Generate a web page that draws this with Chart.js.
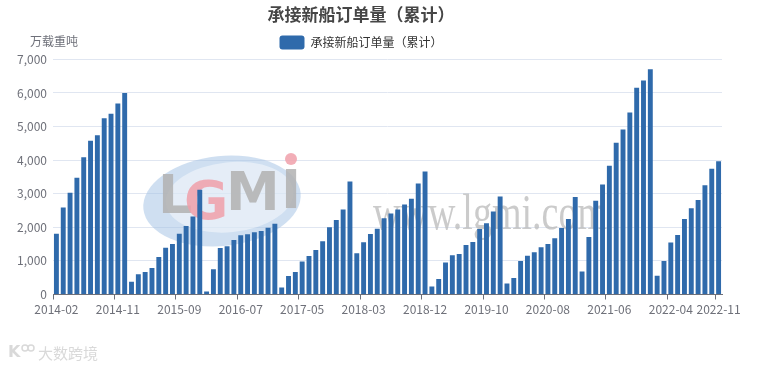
<!DOCTYPE html>
<html>
<head>
<meta charset="utf-8">
<script src="https://cdn.jsdelivr.net/npm/chart.js@4.4.0/dist/chart.umd.min.js"></script>
<style>
html, body { margin: 0; padding: 0; background: #fff; }
</style>
</head>
<body>
<canvas id="myChart" width="760" height="370"></canvas>
<script>
//Cumulative new ship orders (10k dwt). January is merged into February,
//so every year runs 02..12 (2022 stops at 11)
var months = ['02', '03', '04', '05', '06', '07', '08', '09', '10', '11', '12'];
var years = ['2014', '2015', '2016', '2017', '2018', '2019', '2020', '2021', '2022'];

var orders2014 = [1810, 2590, 3030, 3475, 4085, 4580, 4740, 5250, 5380, 5690, 6000];
var orders2015 = [380, 600, 670, 790, 1115, 1395, 1505, 1810, 2040, 2320, 3120];
var orders2016 = [90, 750, 1385, 1435, 1625, 1765, 1795, 1850, 1890, 1990, 2110];
var orders2017 = [210, 550, 670, 985, 1145, 1325, 1585, 2000, 2220, 2530, 3365];
var orders2018 = [1225, 1555, 1800, 1960, 2270, 2410, 2530, 2680, 2850, 3305, 3665];
var orders2019 = [240, 460, 955, 1165, 1205, 1475, 1565, 1950, 2120, 2470, 2920];
var orders2020 = [330, 490, 995, 1155, 1255, 1405, 1505, 1675, 1980, 2250, 2900];
var orders2021 = [685, 1715, 2790, 3275, 3835, 4520, 4910, 5420, 6155, 6375, 6705];
var orders2022 = [560, 995, 1545, 1775, 2250, 2570, 2810, 3255, 3745, 3965];

var yearlyOrders = [orders2014, orders2015, orders2016, orders2017, orders2018,
    orders2019, orders2020, orders2021, orders2022];

//flatten into one label list + one value list for the bar chart
var labels = [], values = [];
for (var i = 0; i < years.length; i++) {
    for (var j = 0; j < yearlyOrders[i].length; j++) {
        labels.push(years[i] + '-' + months[j]);
        values.push(yearlyOrders[i][j]);
    }
}

var LABEL_STEP = 9;
var GREY = '#6e7079';
var FONT = '"Noto Sans CJK SC", "Noto Sans", sans-serif';
Chart.defaults.font.family = FONT;

function showTick(index) {
    return index % LABEL_STEP === 0 || index === labels.length - 1;
}

//faint site logos that sit behind / around the bars
const watermark = {
    id: 'watermark',
    beforeDatasetsDraw: function (chart) {
        var ctx = chart.ctx;
        ctx.save();
        ctx.translate(222, 201);
        ctx.rotate(-0.1);
        ctx.fillStyle = 'rgba(160,192,228,0.5)';
        ctx.beginPath();
        ctx.ellipse(0, 0, 79, 45, 0, 0, Math.PI * 2);
        ctx.fill();
        ctx.fillStyle = 'rgba(255,255,255,0.45)';
        ctx.beginPath();
        ctx.ellipse(8, -3, 64, 35, 0, 0, Math.PI * 2);
        ctx.fill();
        ctx.restore();

        ctx.save();
        ctx.font = 'bold 54px "DejaVu Sans"';
        ctx.textBaseline = 'alphabetic';
        ctx.fillStyle = 'rgba(178,178,178,0.85)';
        ctx.fillText('L', 158, 213);
        ctx.fillStyle = 'rgba(240,160,170,0.85)';
        ctx.fillText('G', 184, 219);
        ctx.fillStyle = 'rgba(178,178,178,0.85)';
        ctx.fillText('M', 226, 210);
        ctx.fillText('I', 281, 208);
        ctx.fillStyle = 'rgba(240,160,170,0.85)';
        ctx.beginPath();
        ctx.arc(291, 159, 6, 0, Math.PI * 2);
        ctx.fill();
        ctx.restore();

        ctx.save();
        ctx.translate(373, 216);
        ctx.scale(0.76, 1);
        ctx.font = '50px "Liberation Serif"';
        ctx.fillStyle = 'rgba(185,185,185,0.75)';
        ctx.fillText('www.lgmi.com', 0, 0);
        ctx.restore();
    },
    afterDraw: function (chart) {
        var ctx = chart.ctx;
        ctx.save();
        ctx.fillStyle = '#d9d9d9';
        ctx.font = 'bold 16px "DejaVu Sans"';
        ctx.textBaseline = 'middle';
        ctx.fillText('K', 8, 353);
        ctx.strokeStyle = '#d9d9d9';
        ctx.lineWidth = 1.5;
        ctx.beginPath();
        ctx.arc(25, 348, 3, 0, Math.PI * 2);
        ctx.moveTo(34, 348);
        ctx.arc(31, 348, 3, 0, Math.PI * 2);
        ctx.stroke();
        ctx.font = '15px ' + FONT;
        ctx.fillText('大数跨境', 38, 353);
        ctx.restore();
    }
};

//unit name above the value axis
const axisName = {
    id: 'axisName',
    afterDraw: function (chart) {
        var ctx = chart.ctx;
        ctx.save();
        ctx.fillStyle = GREY;
        ctx.font = '12px ' + FONT;
        ctx.textBaseline = 'middle';
        ctx.fillText('万载重吨', 30, 41);
        ctx.restore();
    }
};

const GRAPH = document.getElementById('myChart');
const barGraph = new Chart(GRAPH, {
    type: 'bar',
    data: {
        labels: labels,
        datasets: [{
            label: '承接新船订单量（累计）',
            data: values,
            backgroundColor: '#2f6aab',
            categoryPercentage: 1,
            barPercentage: 0.72
        }]
    },
    options: {
        responsive: false,
        animation: false,
        devicePixelRatio: 1,
        layout: { padding: { left: 0, right: 38, top: 0, bottom: 0 } },
        plugins: {
            title: {
                display: true,
                text: '承接新船订单量（累计）',
                color: '#464646',
                font: { size: 17, weight: 'bold' },
                padding: { top: 4, bottom: 5 }
            },
            legend: {
                labels: {
                    boxWidth: 25,
                    boxHeight: 14,
                    useBorderRadius: true,
                    borderRadius: 3,
                    color: '#333',
                    font: { size: 12 },
                    padding: 6
                }
            },
            tooltip: { enabled: false }
        },
        scales: {
            x: {
                grid: {
                    drawOnChartArea: false,
                    tickLength: 5,
                    tickColor: function (c) {
                        return (showTick(c.index) || c.index >= labels.length) ? GREY : 'rgba(0,0,0,0)';
                    }
                },
                border: { color: GREY },
                ticks: {
                    autoSkip: false,
                    maxRotation: 0,
                    color: GREY,
                    padding: 3,
                    font: { size: 12 },
                    callback: function (value, index) {
                        return showTick(index) ? labels[index] : '';
                    }
                },
                afterFit: function (scale) { scale.height = 75.5; }
            },
            y: {
                min: 0,
                max: 7000,
                ticks: { stepSize: 1000, color: GREY, padding: 6, font: { size: 12 } },
                grid: { color: '#e0e6f1', drawTicks: false },
                border: { display: false },
                afterFit: function (scale) { scale.width = 53; }
            }
        }
    },
    plugins: [watermark, axisName]
});
</script>
</body>
</html>
